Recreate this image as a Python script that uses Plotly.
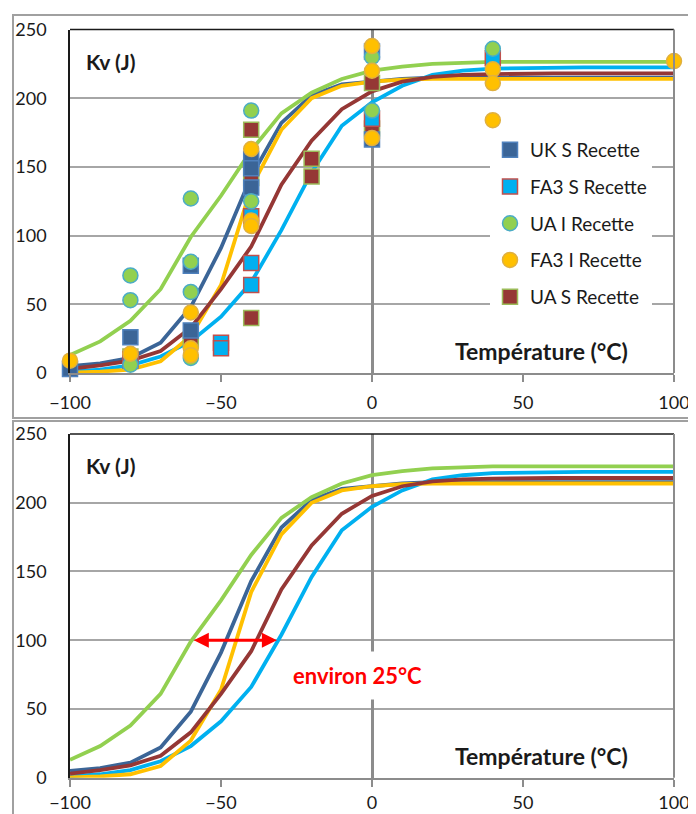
import plotly.graph_objects as go

# ---------------- data ----------------
T = [-100, -90, -80, -70, -60, -50, -40, -30, -20, -10, 0, 10, 20, 30, 40, 50, 60, 70, 80, 90, 100]

curve_uk_s = [5, 7, 11, 22, 48, 91, 143, 182, 202, 210, 212, 214, 215, 215, 215, 215, 215, 215, 215, 215, 215]
curve_fa3_s = [1, 2.5, 5.5, 12, 23, 41, 66, 104, 146, 180, 197, 209, 217, 220, 221.5, 222, 222.5, 222.5, 222.5, 222.5, 222.5]
curve_ua_i = [13, 23, 38, 61, 99, 129, 162, 189, 204, 214, 220, 223, 225, 226, 226.5, 226.5, 226.5, 226.5, 226.5, 226.5, 226.5]
curve_fa3_i = [0.3, 1, 2.5, 8.5, 27, 64, 135, 177, 200, 209, 212, 213.5, 214, 214, 214, 214, 214, 214, 214, 214, 214]
curve_ua_s = [3, 5.5, 9, 16, 33, 61, 92, 137, 169, 192, 205, 212, 215.5, 217, 217.5, 218, 218, 218, 218, 218, 218]

pts_uk_s_x = [-100, -80, -80, -60, -60, -40, -40, -40, 0, 0]
pts_uk_s_y = [3, 26, 9, 78, 31, 156, 149, 135, 234, 170]
pts_fa3_s_x = [-80, -50, -50, -40, -40, -40, 0, 40]
pts_fa3_s_y = [10, 22, 18, 114, 80, 64, 185, 229]
pts_ua_i_x = [-80, -80, -80, -60, -60, -60, -60, -40, -40, 0, 0, 40]
pts_ua_i_y = [71, 53, 6, 127, 81, 59, 11, 191, 125, 230, 191, 236]
pts_fa3_i_x = [-100, -80, -60, -60, -60, -40, -40, -40, 0, 0, 0, 40, 40, 40, 100]
pts_fa3_i_y = [9, 14, 44, 18, 13, 163, 111, 107, 238, 220, 171, 221, 211, 184, 227]
pts_ua_s_x = [-80, -60, -40, -40, -40, -20, -20, 0, 0]
pts_ua_s_y = [12, 24, 177, 142, 40, 156, 143, 211, 178]

x_ticks = [-100, -50, 0, 50, 100]
y_ticks = [0, 50, 100, 150, 200, 250]

arrow_from = (-59.5, 100)
arrow_to = (-31.5, 100)

# ---------------- styles ----------------
C_UK = "#3B6597"
C_FA3S = "#00B0F0"
C_UAI = "#92D050"
C_FA3I = "#FFC000"
C_UAS = "#953735"
FONT = "Lato"
GRID = "#A6A6A6"
AX = "#8C8C8C"

fig = go.Figure()

lines = [
    ("UK S", curve_uk_s, C_UK),
    ("FA3 S", curve_fa3_s, C_FA3S),
    ("UA I", curve_ua_i, C_UAI),
    ("FA3 I", curve_fa3_i, C_FA3I),
    ("UA S", curve_ua_s, C_UAS),
]
for ax_suffix in ["", "2"]:
    for name, ys, col in lines:
        fig.add_trace(go.Scatter(x=T, y=ys, mode="lines", line=dict(color=col, width=3.8),
                                 showlegend=False, hoverinfo="skip",
                                 xaxis="x" + ax_suffix, yaxis="y" + ax_suffix))

markers = [
    ("UA S Recette", pts_ua_s_x, pts_ua_s_y, "square", C_UAS, "#9BBB59", 5),
    ("UK S Recette", pts_uk_s_x, pts_uk_s_y, "square", C_UK, "#4F81BD", 1),
    ("FA3 S Recette", pts_fa3_s_x, pts_fa3_s_y, "square", C_FA3S, "#C0504D", 2),
    ("UA I Recette", pts_ua_i_x, pts_ua_i_y, "circle", C_UAI, "#4BACC6", 3),
    ("FA3 I Recette", pts_fa3_i_x, pts_fa3_i_y, "circle", C_FA3I, "#E0B040", 4),
]
for name, xs, ys, sym, fill, border, rank in markers:
    fig.add_trace(go.Scatter(x=xs, y=ys, mode="markers", name=name,
                             marker=dict(symbol=sym, size=15, color=fill,
                                         line=dict(color=border, width=1.5)),
                             legendgroup=name, legendrank=rank, cliponaxis=False,
                             xaxis="x", yaxis="y"))

# the page body has an 8px margin, so the figure is 8px smaller and shifted
OFF = 8
W, H = 696 - OFF, 814 - OFF
xl, xr = 70 - OFF, 674 - OFF
top_y0, top_y1 = 29.5 - OFF, 373 - OFF
bot_y0, bot_y1 = 434 - OFF, 777.7 - OFF

def xd():
    return [xl / W, xr / W]

def yd(a, b):
    return [1 - b / H, 1 - a / H]

xaxis_common = dict(range=[-100, 100], tickvals=x_ticks, showgrid=False,
                    zeroline=True, zerolinecolor=AX, zerolinewidth=2.5,
                    showline=True, linecolor=AX, linewidth=2,
                    ticks="outside", ticklen=7, tickwidth=2, tickcolor=AX,
                    automargin=False,
                    tickfont=dict(family=FONT, size=18, color="#1a1a1a"),
                    domain=xd(), fixedrange=True)
yaxis_common = dict(range=[0, 250], tickvals=y_ticks, showgrid=True, gridcolor=GRID,
                    gridwidth=2, zeroline=False, showline=True, linecolor="#1a1a1a",
                    linewidth=1.5, ticks="", ticklabelstandoff=18, automargin=False,
                    tickfont=dict(family=FONT, size=18, color="#1a1a1a"), fixedrange=True)

fig.update_layout(
    width=W, height=H, margin=dict(l=0, r=0, t=0, b=0, autoexpand=False),
    paper_bgcolor="white", plot_bgcolor="white",
    xaxis=dict(**xaxis_common, anchor="y", ticklabelstandoff=5),
    yaxis=dict(**yaxis_common, domain=yd(top_y0, top_y1), anchor="x"),
    xaxis2=dict(**xaxis_common, anchor="y2", ticklabelstandoff=1),
    yaxis2=dict(**yaxis_common, domain=yd(bot_y0, bot_y1), anchor="x2"),
    legend=dict(x=(490 - OFF) / W, y=1 - (131 - OFF) / H, xanchor="left", yanchor="top",
                bgcolor="white", borderwidth=0, tracegroupgap=9,
                font=dict(family=FONT, size=19, color="#1a1a1a")),
    showlegend=True,
)

shapes = []
for xa, ya in [("x", "y"), ("x2", "y2")]:
    shapes.append(dict(type="line", xref=xa + " domain", yref=ya + " domain",
                       x0=0, x1=1, y0=1, y1=1, line=dict(color="#1a1a1a", width=1.5)))
    shapes.append(dict(type="line", xref=xa + " domain", yref=ya + " domain",
                       x0=1, x1=1, y0=0, y1=1, line=dict(color=AX, width=2)))
# outer frames
shapes.append(dict(type="rect", xref="paper", yref="paper", x0=(13 - OFF) / W, x1=1.01,
                   y0=1 - (418 - OFF) / H, y1=1 - (15 - OFF) / H,
                   line=dict(color="#A0A0A0", width=2)))
shapes.append(dict(type="rect", xref="paper", yref="paper", x0=(13 - OFF) / W, x1=1.01,
                   y0=-0.01, y1=1 - (421 - OFF) / H, line=dict(color="#A0A0A0", width=2)))
fig.update_layout(shapes=shapes)

ann = []
for xa, ya in [("x", "y"), ("x2", "y2")]:
    ann.append(dict(x=-95.5, y=227, xref=xa, yref=ya, text="<b>Kv (J)</b>", showarrow=False,
                    xanchor="left", yanchor="middle",
                    font=dict(family=FONT, size=21, color="#1a1a1a")))
    ann.append(dict(x=85.4, y=16, xref=xa, yref=ya, text="<b>Température (°C)</b>",
                    showarrow=False, xanchor="right", yanchor="middle",
                    font=dict(family=FONT, size=23, color="#1a1a1a")))
ann.append(dict(x=-29.8, y=74.7, xref="x2", yref="y2", text="<b>environ 25°C</b>",
                showarrow=False, xanchor="left", yanchor="middle", bgcolor="white",
                borderpad=10, font=dict(family=FONT, size=22, color="#FF0000")))
ann.append(dict(x=arrow_to[0], y=arrow_to[1], ax=arrow_from[0], ay=arrow_from[1],
                xref="x2", yref="y2", axref="x2", ayref="y2", text="", showarrow=True,
                arrowhead=2, startarrowhead=2, arrowside="end+start", arrowsize=1,
                startarrowsize=1, arrowwidth=3, arrowcolor="#FF0000"))
fig.update_layout(annotations=ann)

fig.write_html("out.html")
